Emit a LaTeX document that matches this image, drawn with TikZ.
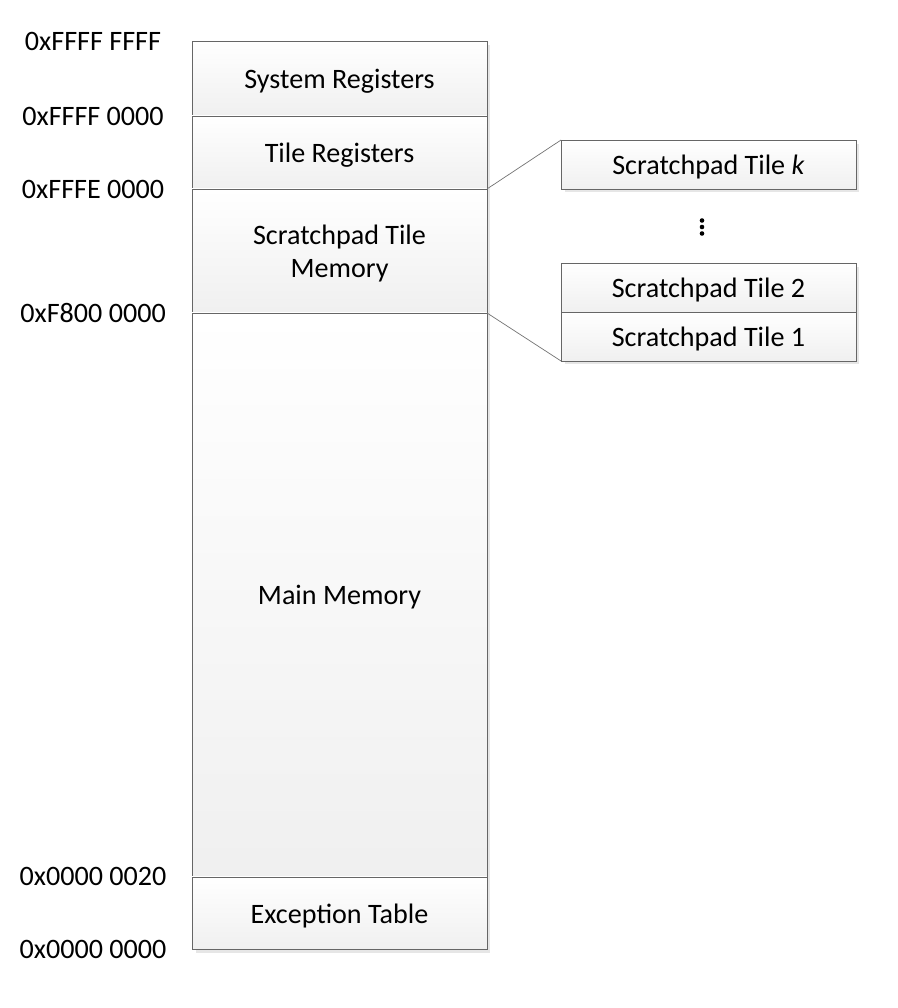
\documentclass[tikz,border=0pt]{standalone}
\usepackage{fontspec}
\setmainfont{Carlito}
\usetikzlibrary{positioning,shadows}

\begin{document}
\begin{tikzpicture}[
        x=0.02cm, y=-0.02cm,
        membox/.style={draw=black!60, thin, inner sep=0pt, outer sep=0pt,
            minimum width=5.9cm, align=center, font=\fontsize{16}{19}\selectfont,
            text depth=0pt,
            top color=white, bottom color=black!6,
            drop shadow={shadow xshift=0.07cm, shadow yshift=-0.07cm, opacity=0.2}},
        tilebox/.style={membox, minimum height=0.98cm},
        addr/.style={font=\fontsize{16}{19}\selectfont, inner sep=0pt},
        link/.style={draw=black!55, thin}
    ]
        \useasboundingbox (0,0) rectangle (898,1008);

        % Memory map column
        \node[membox, minimum height=1.5cm] (sysreg) at (339.5,78.5) {System Registers};
        \node[membox, minimum height=1.46cm, below=0pt of sysreg] (tilereg) {Tile Registers};
        \node[membox, minimum height=2.48cm, below=0pt of tilereg] (spmem) {Scratchpad Tile\\Memory};
        \node[membox, minimum height=11.28cm, below=0pt of spmem] (mainmem) {Main Memory};
        \node[membox, minimum height=1.46cm, below=0pt of mainmem] (exctab) {Exception Table};

        % Address labels
        \foreach \blk/\anc/\txt in {sysreg/north west/0xFFFF FFFF, sysreg/south west/0xFFFF 0000,
                tilereg/south west/0xFFFE 0000, spmem/south west/0xF800 0000,
                mainmem/south west/0x0000 0020, exctab/south west/0x0000 0000}
            \node[addr] (addr-\blk-\anc) at ([xshift=-1.98cm]\blk.\anc) {\txt};

        % Scratchpad tiles
        \node[tilebox] (tilek) at (708.5,164.5) {Scratchpad Tile \textit{k}};
        \node[tilebox] (tile2) at (708.5,287.5) {Scratchpad Tile 2};
        \node[tilebox, below=0pt of tile2] (tile1) {Scratchpad Tile 1};

        % Ellipsis between tiles
        \coordinate (tiledots) at (702,227);
        \foreach \dy in {-6.5,0,6.5}
            \fill ([yshift=-\dy*0.02cm]tiledots) circle (2.3);

        % Expansion lines
        \draw[link] (tilereg.south east) -- (tilek.north west);
        \draw[link] (spmem.south east) -- (tile1.south west);
    \end{tikzpicture}
\end{document}
